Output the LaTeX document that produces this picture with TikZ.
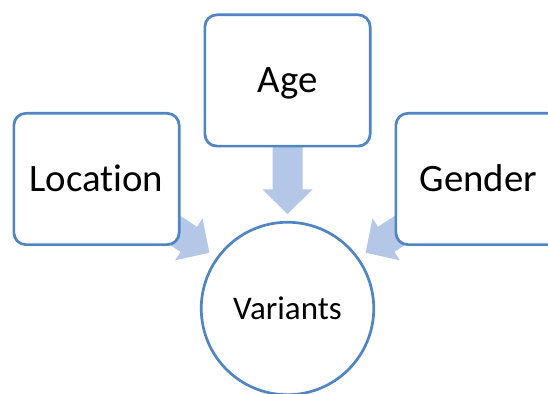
\documentclass[tikz,border=0pt]{standalone}
\usepackage{fontspec}
\setmainfont[Ligatures=NoCommon]{Carlito}
\usepackage{tikz}
\usetikzlibrary{positioning,calc,backgrounds}
\usepackage{xcolor}

\definecolor{borda}{HTML}{5084C2}
\definecolor{seta}{HTML}{B4C7E7}

% seta larga: #1 = origem, #2 = ponta
\newcommand{\setalarga}[2]{%
  \fill[seta] ($(#1)!15pt!90:(#2)$) -- ($(#2)!24.5pt!(#1)!15pt!-90:(#1)$)
    -- ($(#2)!24.5pt!(#1)!25pt!-90:(#1)$) -- (#2)
    -- ($(#2)!24.5pt!(#1)!25pt!90:(#1)$) -- ($(#2)!24.5pt!(#1)!15pt!90:(#1)$)
    -- ($(#1)!15pt!-90:(#2)$) -- cycle;}

\begin{document}
\begin{tikzpicture}[x=1pt, y=1pt,
    caixa/.style={draw=borda, line width=2.7pt, rounded corners=12pt, fill=white,
      minimum width=165.3pt, minimum height=131.3pt, text height=24.8pt, text depth=0pt,
      font=\fontsize{38.8}{46}\selectfont},
    circulo/.style={draw=borda, line width=2.7pt, circle, fill=white, minimum size=172.5pt,
      text height=21.3pt, text depth=0pt, font=\fontsize{33}{40}\selectfont}]
        \useasboundingbox (0,0) rectangle (548,393);

        % Caixas
        \node[caixa] (age) at (287.5,312.5) {Age};
        \node[caixa, left=23pt of age, yshift=-98.5pt] (loc) {Location};
        \node[caixa, right=23pt of age, yshift=-98.5pt] (gen) {Gender};

        % Circulo central
        \node[circulo] (var) at (287.5,84.5) {Variants};

        % Pontas das setas
        \coordinate (tipA) at ($(var.center)+(90:94.5)$);
        \coordinate (tipL) at ($(var.center)+(144.5:96)$);
        \coordinate (tipR) at ($(var.center)+(35.5:96)$);

        % Setas largas (atras das caixas)
        \begin{scope}[on background layer]
            \setalarga{age.center}{tipA}
            \setalarga{loc.center}{tipL}
            \setalarga{gen.center}{tipR}
        \end{scope}
    \end{tikzpicture}
\end{document}
